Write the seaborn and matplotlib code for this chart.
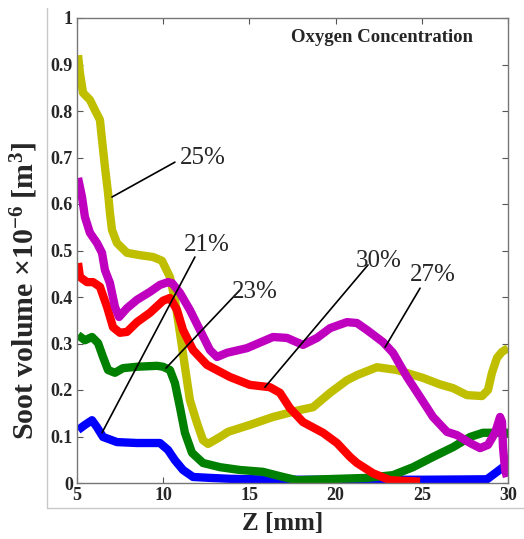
import numpy as np
import pandas as pd
import seaborn as sns
import matplotlib
matplotlib.use("Agg")
import matplotlib.pyplot as plt
from matplotlib.lines import Line2D

# ---- data ----
z_25 = [5.06, 5.17, 5.35, 5.75, 6.04, 6.33, 6.45, 6.62, 6.80, 6.91, 7.03, 7.32, 7.90, 8.65, 9.41,
        9.93, 10.39, 10.68, 10.97, 11.26, 11.55, 11.96, 12.31, 12.60, 13.30, 13.76, 15.03, 16.37,
        17.93, 18.69, 19.68, 20.66, 21.24, 22.40, 23.56, 25.07, 26.06, 26.81, 27.62, 28.49, 28.84,
        29.07, 29.36, 29.65, 30.0]
v_25 = [0.920, 0.882, 0.839, 0.824, 0.802, 0.781, 0.738, 0.680, 0.624, 0.581, 0.544, 0.516, 0.495,
        0.490, 0.486, 0.478, 0.443, 0.394, 0.323, 0.250, 0.178, 0.129, 0.092, 0.084, 0.099, 0.110,
        0.125, 0.142, 0.157, 0.163, 0.194, 0.221, 0.232, 0.249, 0.243, 0.226, 0.212, 0.204, 0.189,
        0.187, 0.200, 0.237, 0.269, 0.282, 0.290]

z_27 = [5.06, 5.29, 5.46, 5.75, 6.16, 6.45, 6.62, 6.91, 7.20, 7.44, 7.90, 8.48, 9.23, 9.81, 10.28,
        10.51, 10.97, 11.55, 12.13, 12.71, 13.12, 13.70, 14.86, 16.37, 17.18, 18.11, 18.92, 19.68,
        20.66, 21.24, 21.82, 22.75, 23.33, 24.14, 24.90, 25.65, 26.46, 27.04, 27.80, 28.38, 28.84,
        29.25, 29.54, 29.65, 29.71, 29.83, 29.94]
v_27 = [0.656, 0.615, 0.572, 0.538, 0.516, 0.495, 0.458, 0.430, 0.379, 0.357, 0.376, 0.394, 0.411,
        0.426, 0.432, 0.430, 0.409, 0.372, 0.329, 0.286, 0.271, 0.280, 0.290, 0.314, 0.312, 0.297,
        0.312, 0.333, 0.346, 0.344, 0.329, 0.303, 0.280, 0.228, 0.185, 0.142, 0.110, 0.103, 0.086,
        0.075, 0.082, 0.108, 0.142, 0.132, 0.077, 0.028, 0.013]

z_30 = [5.06, 5.17, 5.58, 5.93, 6.33, 6.74, 7.09, 7.49, 7.90, 8.48, 9.23, 9.99, 10.39, 10.80, 11.15,
        11.73, 12.54, 13.87, 15.03, 16.19, 16.77, 17.35, 18.11, 19.27, 20.08, 20.84, 21.24, 22.17,
        23.16, 24.90]
v_30 = [0.473, 0.443, 0.432, 0.432, 0.422, 0.379, 0.335, 0.323, 0.325, 0.346, 0.366, 0.392, 0.398,
        0.372, 0.329, 0.286, 0.254, 0.228, 0.211, 0.206, 0.194, 0.161, 0.131, 0.108, 0.086, 0.056,
        0.043, 0.021, 0.006, 0.003]

z_23 = [5.06, 5.46, 5.87, 6.22, 6.51, 6.80, 7.20, 7.67, 8.48, 9.64, 9.99, 10.39, 10.68, 10.97, 11.26,
        11.67, 12.31, 13.30, 14.45, 15.79, 16.95, 17.76, 19.27, 21.82, 23.33, 24.49, 25.65, 26.81,
        27.80, 28.55, 30.0]
v_23 = [0.318, 0.307, 0.314, 0.301, 0.271, 0.243, 0.237, 0.247, 0.250, 0.252, 0.250, 0.243, 0.215,
        0.163, 0.108, 0.065, 0.043, 0.034, 0.028, 0.024, 0.013, 0.006, 0.008, 0.011, 0.017, 0.034,
        0.056, 0.077, 0.099, 0.108, 0.108]

z_21 = [5.06, 5.46, 5.87, 6.16, 6.51, 7.32, 8.48, 9.81, 10.28, 10.68, 11.15, 11.73, 12.71, 13.87,
        16.95, 20.0, 25.0, 28.78, 29.36, 29.71, 30.0]
v_21 = [0.114, 0.125, 0.135, 0.120, 0.099, 0.088, 0.086, 0.086, 0.071, 0.049, 0.028, 0.013, 0.011,
        0.009, 0.007, 0.007, 0.007, 0.008, 0.024, 0.034, 0.036]

series_names = ["21%", "23%", "25%", "30%", "27%"]
series_z = [z_21, z_23, z_25, z_30, z_27]
series_v = [v_21, v_23, v_25, v_30, v_27]
colors = ["#0000FF", "#008000", "#BFBF00", "#FF0000", "#BF00BF"]

x_ticks = [5, 10, 15, 20, 25, 30]
y_ticks = [0, 0.1, 0.2, 0.3, 0.4, 0.5, 0.6, 0.7, 0.8, 0.9, 1]
y_ticklabels = ["0", "0.1", "0.2", "0.3", "0.4", "0.5", "0.6", "0.7", "0.8", "0.9", "1"]

# annotation: label, line start (x,y), line end (x,y), text pos (x,y)
ann_labels = ["25%", "21%", "23%", "30%", "27%"]
ann_start = [(7.03, 0.615), (6.45, 0.108), (10.16, 0.247), (15.9, 0.206), (22.87, 0.292)]
ann_end = [(10.68, 0.69), (11.84, 0.486), (14.45, 0.415), (21.88, 0.469), (24.9, 0.419)]
ann_text = [(10.95, 0.70), (11.2, 0.512), (14.0, 0.410), (21.15, 0.478), (24.3, 0.447)]

# ---- style ----
sns.set_theme(style="ticks")
plt.rcParams["font.family"] = ["Liberation Serif", "DejaVu Serif"]
plt.rcParams["mathtext.fontset"] = "custom"
plt.rcParams["mathtext.rm"] = "Liberation Serif:bold"
plt.rcParams["mathtext.bf"] = "Liberation Serif:bold"
plt.rcParams["mathtext.it"] = "Liberation Serif:bold"

fig = plt.figure(figsize=(5.24, 5.39), dpi=100)
ax = fig.add_axes([77 / 524, 1 - 483 / 539, (508 - 77) / 524, (483 - 18) / 539])

for name, zz, vv, c in zip(series_names, series_z, series_v, colors):
    df = pd.DataFrame({"Z": zz, "V": vv})
    sns.lineplot(data=df, x="Z", y="V", ax=ax, color=c, linewidth=6,
                 solid_joinstyle="round", solid_capstyle="butt", estimator=None, sort=False)

for lab, s, e, t in zip(ann_labels, ann_start, ann_end, ann_text):
    ax.plot([s[0], e[0]], [s[1], e[1]], color="black", linewidth=1.2)
    ax.text(t[0], t[1], lab, fontsize=18, ha="left", va="center",
            family="Liberation Serif")

ax.text(0.708, 0.959, "Oxygen Concentration", transform=ax.transAxes, fontsize=13.5,
        fontweight="bold", ha="center", va="center")

ax.set_xlim(5, 30)
ax.set_ylim(0, 1)
ax.set_xticks(x_ticks)
ax.set_xticklabels([str(v) for v in x_ticks], fontsize=13, fontweight="bold")
ax.set_yticks(y_ticks)
ax.set_yticklabels(y_ticklabels, fontsize=13, fontweight="bold")
ax.tick_params(direction="in", top=True, right=True, length=4, width=0.8,
               color="#555555", pad=3)
for sp in ax.spines.values():
    sp.set_color("#777777")
    sp.set_linewidth(1.0)

ax.set_xlabel("Z [mm]", fontsize=18, fontweight="bold")
ax.xaxis.set_label_coords(0.478, -0.062)
ax.set_ylabel(r"Soot volume $\times10^{-6}$ [m$^{3}$]", fontsize=21.5, fontweight="bold")
ax.yaxis.set_label_coords(-0.085, 0.413)

# outer light gray frame (partial, as in reference)
fig.add_artist(Line2D([47 / 524, 47 / 524], [1 - 8 / 539, 1 - 508 / 539],
                      transform=fig.transFigure, color="#c8c8c8", linewidth=1))
fig.add_artist(Line2D([47 / 524, 1.0], [1 - 508 / 539, 1 - 508 / 539],
                      transform=fig.transFigure, color="#c8c8c8", linewidth=1))

fig.savefig("out.png", dpi=100)
